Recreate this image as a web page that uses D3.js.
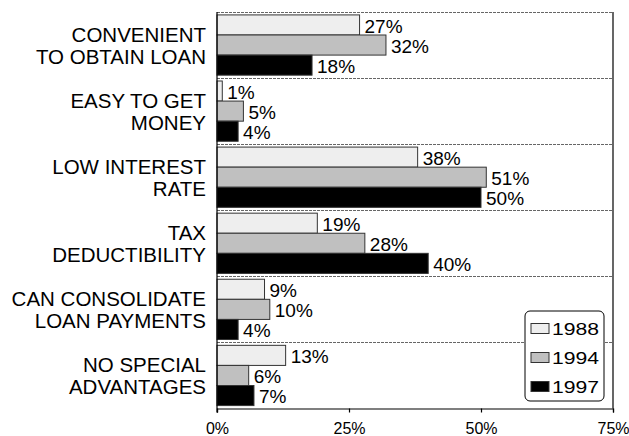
<!DOCTYPE html>
<html>
<head>
<meta charset="utf-8">
<script src="https://cdn.jsdelivr.net/npm/d3@7"></script>
<style>
  html, body { margin: 0; padding: 0; background: #fff; }
  svg { display: block; font-family: "Liberation Sans", Arial, sans-serif; }
</style>
</head>
<body>
<svg id="chart" width="629" height="436"></svg>
<script>
// Reasons for borrowing, share of respondents by survey year
const categories = [
  ["CONVENIENT", "TO OBTAIN LOAN"],
  ["EASY TO GET", "MONEY"],
  ["LOW INTEREST", "RATE"],
  ["TAX", "DEDUCTIBILITY"],
  ["CAN CONSOLIDATE", "LOAN PAYMENTS"],
  ["NO SPECIAL", "ADVANTAGES"]
];
const years = ["1988", "1994", "1997"];
const values1988 = [27, 1, 38, 19, 9, 13];
const values1994 = [32, 5, 51, 28, 10, 6];
const values1997 = [18, 4, 50, 40, 4, 7];
const tickValues = [0, 25, 50, 75];
const yearColors = ["#eeeeee", "#c0c0c0", "#000000"];

const series = [values1988, values1994, values1997];
const catKeys = categories.map(c => c.join(" "));

const svg = d3.select("#chart");
const plotLeft = 217, plotRight = 613, plotTop = 12, plotBottom = 408.5;

const x = d3.scaleLinear().domain([0, 75]).range([plotLeft, plotRight]);
const y0 = d3.scaleBand().domain(catKeys).range([plotTop, plotBottom]);
const y1 = d3.scaleBand().domain(years).range([0, y0.bandwidth()]).paddingOuter(0.145);
const color = d3.scaleOrdinal().domain(years).range(yearColors);

// dashed group separators (including the top edge)
svg.append("g").selectAll("line")
  .data(catKeys)
  .join("line")
  .attr("x1", plotLeft).attr("x2", plotRight)
  .attr("y1", d => Math.round(y0(d)) + 0.5).attr("y2", d => Math.round(y0(d)) + 0.5)
  .attr("stroke", "#666").attr("stroke-width", 1)
  .attr("stroke-dasharray", "3,1");

// bars
const groups = svg.append("g").selectAll("g")
  .data(catKeys)
  .join("g")
  .attr("transform", d => `translate(0,${y0(d)})`);

groups.selectAll("rect")
  .data((d, i) => years.map((yr, j) => ({ yr, v: series[j][i] })))
  .join("rect")
  .attr("x", x(0))
  .attr("y", d => y1(d.yr))
  .attr("width", d => x(d.v) - x(0))
  .attr("height", y1.bandwidth())
  .attr("fill", d => color(d.yr))
  .attr("stroke", "#333").attr("stroke-width", 1);

groups.selectAll("text")
  .data((d, i) => years.map((yr, j) => ({ yr, v: series[j][i] })))
  .join("text")
  .attr("x", d => x(d.v) + 5)
  .attr("y", d => y1(d.yr) + y1.bandwidth() / 2)
  .attr("dy", "0.40em")
  .attr("font-size", 19)
  .attr("fill", "#000")
  .text(d => d.v + "%");

// right frame edge
svg.append("line")
  .attr("x1", plotRight).attr("x2", plotRight).attr("y1", plotTop).attr("y2", plotBottom)
  .attr("stroke", "#000").attr("stroke-width", 1.2);

// left axis line
svg.append("line")
  .attr("x1", plotLeft).attr("x2", plotLeft).attr("y1", plotTop).attr("y2", plotBottom + 4)
  .attr("stroke", "#000").attr("stroke-width", 1.2);

// bottom axis
const xAxis = d3.axisBottom(x).tickValues(tickValues).tickFormat(d => d + "%").tickSize(4).tickPadding(10);
const ax = svg.append("g").attr("transform", `translate(0,${plotBottom})`).call(xAxis);
ax.select(".domain").attr("stroke", "#000").attr("stroke-width", 1.2);
ax.selectAll(".tick line").attr("stroke", "#000").attr("stroke-width", 1.2);
ax.selectAll("text").attr("font-size", 16).attr("fill", "#000")
  .attr("font-family", "'Liberation Sans', Arial, sans-serif");

// category labels
const catLabels = svg.append("g").selectAll("text")
  .data(categories)
  .join("text")
  .attr("text-anchor", "end")
  .attr("font-size", 20.5)
  .attr("fill", "#000")
  .attr("transform", (d, i) => `translate(206,${y0(catKeys[i]) + y0.bandwidth() / 2})`);
catLabels.selectAll("tspan")
  .data(d => d)
  .join("tspan")
  .attr("x", 0)
  .attr("y", (d, i) => i === 0 ? -3.5 : 18.5)
  .text(d => d);

// legend
const legend = svg.append("g").attr("transform", "translate(525,311)");
legend.append("rect")
  .attr("width", 79).attr("height", 90).attr("rx", 5)
  .attr("fill", "#fff").attr("stroke", "#000").attr("stroke-width", 1);
const items = legend.selectAll("g.item")
  .data(years)
  .join("g")
  .attr("class", "item")
  .attr("transform", (d, i) => `translate(0,${17.5 + i * 29})`);
items.append("rect")
  .attr("x", 6).attr("y", -5).attr("width", 18).attr("height", 10)
  .attr("fill", d => color(d)).attr("stroke", "#333").attr("stroke-width", 1);
items.append("text")
  .attr("x", 27).attr("y", 0).attr("dy", "0.36em")
  .attr("font-size", 17).attr("fill", "#000")
  .attr("textLength", 47).attr("lengthAdjust", "spacingAndGlyphs")
  .text(d => d);
</script>
</body>
</html>
